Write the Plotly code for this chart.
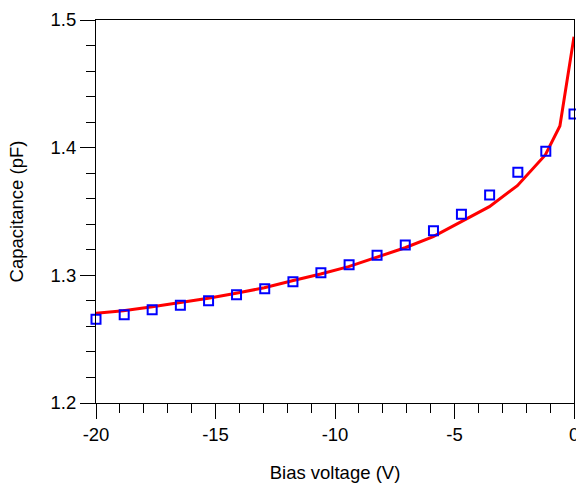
import plotly.graph_objects as go

# Measured data (open squares)
meas_v = [-20, -18.82, -17.65, -16.47, -15.29, -14.12, -12.94, -11.76, -10.59,
          -9.41, -8.24, -7.06, -5.88, -4.71, -3.53, -2.35, -1.18, 0]
meas_c = [1.2656, 1.2692, 1.2731, 1.2765, 1.2801, 1.2848, 1.2895, 1.2950, 1.3021,
          1.3083, 1.3157, 1.3238, 1.3350, 1.3478, 1.3629, 1.3807, 1.3972, 1.4264]

# Simulated curve (red line)
sim_v = [-20, -18.86, -17.64, -16.49, -15.30, -14.14, -12.96, -11.79, -10.60,
         -9.43, -8.24, -7.07, -5.89, -4.73, -3.54, -2.37, -1.20, -0.59, 0]
sim_c = [1.2703, 1.2723, 1.2754, 1.2786, 1.2820, 1.2859, 1.2903, 1.2958, 1.3010,
         1.3068, 1.3141, 1.3216, 1.3303, 1.3420, 1.3538, 1.3702, 1.3943, 1.4170, 1.4869]

x_ticks = [-20, -15, -10, -5]
x_ticktext = ["-20", "-15", "-10", "-5"]
x_last_tick = 0
x_last_text = "0"
y_ticks = [1.2, 1.3, 1.4, 1.5]
y_ticktext = ["1.2", "1.3", "1.4", "1.5"]

FONT = "Liberation Sans, Arial, sans-serif"
FS = 18.5

fig = go.Figure()
fig.add_trace(go.Scatter(x=sim_v, y=sim_c, mode="lines",
                         line=dict(color="#ff0000", width=3), cliponaxis=False,
                         showlegend=False, hoverinfo="skip"))
fig.add_trace(go.Scatter(x=meas_v, y=meas_c, mode="markers",
                         marker=dict(symbol="square-open", size=9, color="#0000ff",
                                     line=dict(width=2, color="#0000ff")),
                         cliponaxis=False, showlegend=False, hoverinfo="skip"))

axis_common = dict(showgrid=False, zeroline=False, showline=True, linecolor="#000000",
                   linewidth=1, mirror=True, ticks="outside", tickcolor="#000000",
                   tickwidth=1, ticklen=15,
                   tickfont=dict(family=FONT, size=FS, color="#000000"))

fig.update_xaxes(range=[-20, 0], tickvals=x_ticks + [x_last_tick],
                 ticktext=x_ticktext + [""],
                 minor=dict(dtick=1, tick0=0, ticks="outside", ticklen=9,
                            tickcolor="#000000", tickwidth=1),
                 title=dict(text="Bias voltage (V)", font=dict(family=FONT, size=FS, color="#000000"),
                            standoff=21),
                 **axis_common)
fig.update_yaxes(range=[1.2, 1.5], tickvals=y_ticks, ticktext=y_ticktext,
                 minor=dict(dtick=0.02, tick0=1.2, ticks="outside", ticklen=9,
                            tickcolor="#000000", tickwidth=1),
                 title=dict(text="Capacitance (pF)", font=dict(family=FONT, size=FS, color="#000000"),
                            standoff=22),
                 **axis_common)

fig.add_annotation(x=x_last_tick, y=0, xref="x", yref="paper", text=x_last_text,
                   showarrow=False, xanchor="center", yanchor="top", yshift=-19,
                   font=dict(family=FONT, size=FS, color="#000000"))

fig.update_layout(width=576, height=484,
                  margin=dict(l=96, r=2, t=20, b=81, autoexpand=False),
                  plot_bgcolor="white", paper_bgcolor="white",
                  font=dict(family=FONT, size=FS, color="#000000"))

fig.write_html("out.html", config={"displayModeBar": False},
               post_script="document.body.style.margin='0';")
